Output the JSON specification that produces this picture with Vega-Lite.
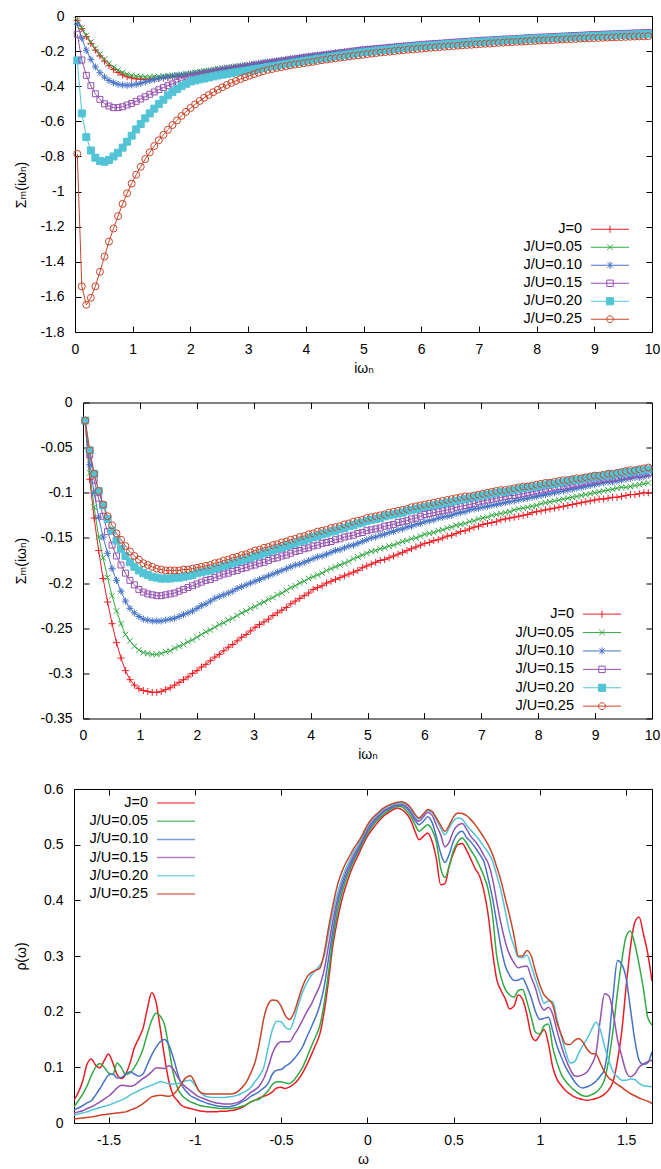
{
"$schema":"https://vega.github.io/schema/vega-lite/v6.json",
"background":"white",
"padding":{"left":12,"top":8,"right":0,"bottom":0},
"autosize":{"type":"pad"},
"config":{
 "font":"Liberation Sans",
 "view":{"stroke":"#000","strokeWidth":1},
 "axis":{"grid":false,"domain":false,"tickSize":-6,"tickColor":"#000","tickWidth":1,"labelFontSize":14,"labelFont":"Liberation Sans","labelColor":"#000","titleFontSize":14,"titleFont":"Liberation Sans, DejaVu Sans","titleColor":"#000","titleFontWeight":"normal","labelFlush":false,"labelOverlap":false},
 "legend":{"labelFontSize":14.5,"labelFont":"Liberation Sans","labelColor":"#000","labelAlign":"right","labelOffset":-35.25,"symbolOffset":82,"symbolSize":64,"padding":0,"labelLimit":0}
},
"datasets":{
"m":[
{"x":0.039,"a":-0.025,"b":-0.024,"c":-0.047,"d":-0.104,"e":-0.253,"f":-0.785,"A":-0.022,"B":-0.021,"C":-0.02,"D":-0.02,"E":-0.02,"F":-0.02},
{"x":0.118,"a":-0.072,"b":-0.068,"c":-0.127,"d":-0.251,"e":-0.555,"f":-1.54,"A":-0.085,"B":-0.078,"C":-0.069,"D":-0.058,"E":-0.053,"F":-0.053},
{"x":0.196,"a":-0.117,"b":-0.111,"c":-0.195,"d":-0.338,"e":-0.69,"f":-1.645,"A":-0.128,"B":-0.116,"C":-0.1,"D":-0.086,"E":-0.079,"F":-0.079},
{"x":0.275,"a":-0.156,"b":-0.149,"c":-0.247,"d":-0.397,"e":-0.766,"f":-1.605,"A":-0.164,"B":-0.149,"C":-0.127,"D":-0.106,"E":-0.098,"F":-0.098},
{"x":0.353,"a":-0.194,"b":-0.185,"c":-0.29,"d":-0.443,"e":-0.807,"f":-1.54,"A":-0.195,"B":-0.172,"C":-0.149,"D":-0.126,"E":-0.114,"F":-0.113},
{"x":0.432,"a":-0.227,"b":-0.217,"c":-0.323,"d":-0.475,"e":-0.826,"f":-1.457,"A":-0.221,"B":-0.194,"C":-0.167,"D":-0.143,"E":-0.129,"F":-0.126},
{"x":0.511,"a":-0.257,"b":-0.246,"c":-0.348,"d":-0.5,"e":-0.83,"f":-1.37,"A":-0.245,"B":-0.214,"C":-0.184,"D":-0.158,"E":-0.142,"F":-0.136},
{"x":0.589,"a":-0.283,"b":-0.271,"c":-0.367,"d":-0.513,"e":-0.82,"f":-1.285,"A":-0.266,"B":-0.231,"C":-0.197,"D":-0.17,"E":-0.153,"F":-0.145},
{"x":0.668,"a":-0.304,"b":-0.291,"c":-0.38,"d":-0.522,"e":-0.8,"f":-1.21,"A":-0.283,"B":-0.245,"C":-0.209,"D":-0.18,"E":-0.162,"F":-0.152},
{"x":0.746,"a":-0.322,"b":-0.308,"c":-0.389,"d":-0.522,"e":-0.779,"f":-1.14,"A":-0.297,"B":-0.257,"C":-0.22,"D":-0.189,"E":-0.17,"F":-0.159},
{"x":0.825,"a":-0.336,"b":-0.322,"c":-0.393,"d":-0.517,"e":-0.75,"f":-1.07,"A":-0.307,"B":-0.264,"C":-0.228,"D":-0.197,"E":-0.177,"F":-0.165},
{"x":0.903,"a":-0.346,"b":-0.332,"c":-0.395,"d":-0.507,"e":-0.716,"f":-1.01,"A":-0.313,"B":-0.27,"C":-0.233,"D":-0.202,"E":-0.182,"F":-0.17},
{"x":0.982,"a":-0.353,"b":-0.339,"c":-0.393,"d":-0.498,"e":-0.682,"f":-0.955,"A":-0.317,"B":-0.274,"C":-0.237,"D":-0.207,"E":-0.186,"F":-0.174},
{"x":1.06,"a":-0.358,"b":-0.343,"c":-0.389,"d":-0.486,"e":-0.646,"f":-0.904,"A":-0.319,"B":-0.277,"C":-0.24,"D":-0.21,"E":-0.189,"F":-0.178},
{"x":1.139,"a":-0.36,"b":-0.346,"c":-0.384,"d":-0.473,"e":-0.615,"f":-0.859,"A":-0.32,"B":-0.278,"C":-0.241,"D":-0.212,"E":-0.191,"F":-0.18},
{"x":1.217,"a":-0.361,"b":-0.347,"c":-0.376,"d":-0.46,"e":-0.583,"f":-0.815,"A":-0.321,"B":-0.279,"C":-0.242,"D":-0.213,"E":-0.193,"F":-0.182},
{"x":1.296,"a":-0.36,"b":-0.347,"c":-0.369,"d":-0.446,"e":-0.555,"f":-0.776,"A":-0.321,"B":-0.279,"C":-0.242,"D":-0.214,"E":-0.194,"F":-0.184},
{"x":1.374,"a":-0.358,"b":-0.346,"c":-0.362,"d":-0.433,"e":-0.528,"f":-0.741,"A":-0.32,"B":-0.278,"C":-0.242,"D":-0.214,"E":-0.195,"F":-0.185},
{"x":1.453,"a":-0.356,"b":-0.345,"c":-0.356,"d":-0.42,"e":-0.501,"f":-0.708,"A":-0.318,"B":-0.276,"C":-0.241,"D":-0.213,"E":-0.195,"F":-0.186},
{"x":1.532,"a":-0.353,"b":-0.343,"c":-0.351,"d":-0.408,"e":-0.477,"f":-0.677,"A":-0.316,"B":-0.275,"C":-0.24,"D":-0.212,"E":-0.195,"F":-0.186},
{"x":1.61,"a":-0.35,"b":-0.341,"c":-0.347,"d":-0.397,"e":-0.452,"f":-0.648,"A":-0.313,"B":-0.272,"C":-0.239,"D":-0.211,"E":-0.194,"F":-0.186},
{"x":1.689,"a":-0.347,"b":-0.338,"c":-0.343,"d":-0.387,"e":-0.433,"f":-0.621,"A":-0.31,"B":-0.27,"C":-0.237,"D":-0.209,"E":-0.194,"F":-0.186},
{"x":1.767,"a":-0.344,"b":-0.335,"c":-0.34,"d":-0.377,"e":-0.416,"f":-0.595,"A":-0.307,"B":-0.268,"C":-0.235,"D":-0.207,"E":-0.193,"F":-0.185},
{"x":1.846,"a":-0.34,"b":-0.332,"c":-0.337,"d":-0.368,"e":-0.4,"f":-0.569,"A":-0.304,"B":-0.265,"C":-0.233,"D":-0.205,"E":-0.192,"F":-0.185},
{"x":1.924,"a":-0.336,"b":-0.329,"c":-0.335,"d":-0.36,"e":-0.386,"f":-0.546,"A":-0.3,"B":-0.263,"C":-0.231,"D":-0.203,"E":-0.191,"F":-0.184},
{"x":2.003,"a":-0.332,"b":-0.325,"c":-0.332,"d":-0.352,"e":-0.373,"f":-0.524,"A":-0.297,"B":-0.26,"C":-0.228,"D":-0.201,"E":-0.189,"F":-0.183},
{"x":2.081,"a":-0.328,"b":-0.321,"c":-0.328,"d":-0.347,"e":-0.367,"f":-0.503,"A":-0.293,"B":-0.257,"C":-0.225,"D":-0.199,"E":-0.188,"F":-0.182},
{"x":2.16,"a":-0.323,"b":-0.317,"c":-0.324,"d":-0.341,"e":-0.361,"f":-0.484,"A":-0.29,"B":-0.254,"C":-0.223,"D":-0.197,"E":-0.187,"F":-0.181},
{"x":2.238,"a":-0.319,"b":-0.313,"c":-0.319,"d":-0.336,"e":-0.356,"f":-0.466,"A":-0.286,"B":-0.252,"C":-0.22,"D":-0.196,"E":-0.186,"F":-0.18},
{"x":2.317,"a":-0.315,"b":-0.309,"c":-0.315,"d":-0.331,"e":-0.35,"f":-0.45,"A":-0.282,"B":-0.249,"C":-0.217,"D":-0.194,"E":-0.184,"F":-0.178},
{"x":2.395,"a":-0.311,"b":-0.305,"c":-0.311,"d":-0.325,"e":-0.344,"f":-0.434,"A":-0.279,"B":-0.246,"C":-0.215,"D":-0.192,"E":-0.183,"F":-0.177},
{"x":2.474,"a":-0.306,"b":-0.301,"c":-0.306,"d":-0.32,"e":-0.339,"f":-0.42,"A":-0.275,"B":-0.244,"C":-0.213,"D":-0.19,"E":-0.181,"F":-0.175},
{"x":2.553,"a":-0.302,"b":-0.297,"c":-0.302,"d":-0.315,"e":-0.334,"f":-0.406,"A":-0.271,"B":-0.241,"C":-0.211,"D":-0.189,"E":-0.18,"F":-0.174},
{"x":2.631,"a":-0.299,"b":-0.294,"c":-0.298,"d":-0.31,"e":-0.33,"f":-0.393,"A":-0.268,"B":-0.239,"C":-0.209,"D":-0.187,"E":-0.178,"F":-0.172},
{"x":2.71,"a":-0.295,"b":-0.29,"c":-0.294,"d":-0.306,"e":-0.326,"f":-0.381,"A":-0.264,"B":-0.236,"C":-0.206,"D":-0.186,"E":-0.177,"F":-0.171},
{"x":2.788,"a":-0.292,"b":-0.287,"c":-0.29,"d":-0.301,"e":-0.321,"f":-0.37,"A":-0.26,"B":-0.233,"C":-0.204,"D":-0.184,"E":-0.175,"F":-0.169},
{"x":2.867,"a":-0.288,"b":-0.283,"c":-0.286,"d":-0.297,"e":-0.317,"f":-0.359,"A":-0.257,"B":-0.231,"C":-0.202,"D":-0.183,"E":-0.174,"F":-0.168},
{"x":2.945,"a":-0.285,"b":-0.28,"c":-0.282,"d":-0.292,"e":-0.313,"f":-0.349,"A":-0.253,"B":-0.228,"C":-0.2,"D":-0.181,"E":-0.172,"F":-0.166},
{"x":3.024,"a":-0.281,"b":-0.276,"c":-0.278,"d":-0.288,"e":-0.309,"f":-0.34,"A":-0.249,"B":-0.226,"C":-0.198,"D":-0.18,"E":-0.17,"F":-0.164},
{"x":3.102,"a":-0.277,"b":-0.272,"c":-0.274,"d":-0.283,"e":-0.304,"f":-0.331,"A":-0.246,"B":-0.223,"C":-0.196,"D":-0.178,"E":-0.169,"F":-0.163},
{"x":3.181,"a":-0.273,"b":-0.269,"c":-0.27,"d":-0.279,"e":-0.3,"f":-0.323,"A":-0.243,"B":-0.221,"C":-0.194,"D":-0.177,"E":-0.167,"F":-0.161},
{"x":3.259,"a":-0.27,"b":-0.265,"c":-0.266,"d":-0.275,"e":-0.296,"f":-0.315,"A":-0.24,"B":-0.218,"C":-0.192,"D":-0.175,"E":-0.166,"F":-0.16},
{"x":3.338,"a":-0.266,"b":-0.262,"c":-0.262,"d":-0.27,"e":-0.291,"f":-0.307,"A":-0.236,"B":-0.216,"C":-0.19,"D":-0.173,"E":-0.164,"F":-0.158},
{"x":3.416,"a":-0.262,"b":-0.258,"c":-0.258,"d":-0.266,"e":-0.287,"f":-0.302,"A":-0.233,"B":-0.213,"C":-0.188,"D":-0.172,"E":-0.162,"F":-0.157},
{"x":3.495,"a":-0.259,"b":-0.255,"c":-0.254,"d":-0.262,"e":-0.283,"f":-0.296,"A":-0.23,"B":-0.211,"C":-0.186,"D":-0.17,"E":-0.161,"F":-0.155},
{"x":3.574,"a":-0.255,"b":-0.251,"c":-0.251,"d":-0.258,"e":-0.278,"f":-0.291,"A":-0.227,"B":-0.208,"C":-0.184,"D":-0.169,"E":-0.159,"F":-0.154},
{"x":3.652,"a":-0.251,"b":-0.248,"c":-0.247,"d":-0.254,"e":-0.274,"f":-0.286,"A":-0.223,"B":-0.205,"C":-0.182,"D":-0.167,"E":-0.158,"F":-0.152},
{"x":3.731,"a":-0.248,"b":-0.244,"c":-0.243,"d":-0.25,"e":-0.27,"f":-0.281,"A":-0.22,"B":-0.203,"C":-0.18,"D":-0.165,"E":-0.156,"F":-0.151},
{"x":3.809,"a":-0.244,"b":-0.241,"c":-0.239,"d":-0.246,"e":-0.265,"f":-0.277,"A":-0.217,"B":-0.2,"C":-0.179,"D":-0.164,"E":-0.154,"F":-0.149},
{"x":3.888,"a":-0.24,"b":-0.237,"c":-0.236,"d":-0.242,"e":-0.261,"f":-0.273,"A":-0.214,"B":-0.198,"C":-0.177,"D":-0.162,"E":-0.153,"F":-0.148},
{"x":3.966,"a":-0.237,"b":-0.234,"c":-0.232,"d":-0.238,"e":-0.257,"f":-0.269,"A":-0.211,"B":-0.195,"C":-0.175,"D":-0.161,"E":-0.151,"F":-0.146},
{"x":4.045,"a":-0.233,"b":-0.23,"c":-0.228,"d":-0.234,"e":-0.253,"f":-0.265,"A":-0.207,"B":-0.193,"C":-0.173,"D":-0.159,"E":-0.149,"F":-0.145},
{"x":4.123,"a":-0.231,"b":-0.228,"c":-0.225,"d":-0.231,"e":-0.249,"f":-0.261,"A":-0.205,"B":-0.191,"C":-0.171,"D":-0.158,"E":-0.148,"F":-0.143},
{"x":4.202,"a":-0.228,"b":-0.225,"c":-0.222,"d":-0.227,"e":-0.245,"f":-0.256,"A":-0.203,"B":-0.189,"C":-0.17,"D":-0.156,"E":-0.146,"F":-0.142},
{"x":4.28,"a":-0.225,"b":-0.222,"c":-0.219,"d":-0.224,"e":-0.242,"f":-0.252,"A":-0.2,"B":-0.186,"C":-0.168,"D":-0.155,"E":-0.145,"F":-0.141},
{"x":4.359,"a":-0.222,"b":-0.219,"c":-0.216,"d":-0.221,"e":-0.238,"f":-0.248,"A":-0.198,"B":-0.184,"C":-0.166,"D":-0.154,"E":-0.143,"F":-0.139},
{"x":4.437,"a":-0.22,"b":-0.217,"c":-0.212,"d":-0.217,"e":-0.234,"f":-0.244,"A":-0.196,"B":-0.182,"C":-0.164,"D":-0.152,"E":-0.142,"F":-0.138},
{"x":4.516,"a":-0.217,"b":-0.214,"c":-0.209,"d":-0.214,"e":-0.23,"f":-0.241,"A":-0.194,"B":-0.18,"C":-0.163,"D":-0.151,"E":-0.14,"F":-0.137},
{"x":4.595,"a":-0.214,"b":-0.211,"c":-0.206,"d":-0.21,"e":-0.226,"f":-0.237,"A":-0.192,"B":-0.178,"C":-0.161,"D":-0.149,"E":-0.139,"F":-0.135},
{"x":4.673,"a":-0.212,"b":-0.209,"c":-0.203,"d":-0.207,"e":-0.223,"f":-0.234,"A":-0.19,"B":-0.176,"C":-0.159,"D":-0.148,"E":-0.137,"F":-0.134},
{"x":4.752,"a":-0.209,"b":-0.206,"c":-0.2,"d":-0.204,"e":-0.219,"f":-0.23,"A":-0.188,"B":-0.173,"C":-0.158,"D":-0.147,"E":-0.136,"F":-0.132},
{"x":4.83,"a":-0.206,"b":-0.203,"c":-0.197,"d":-0.2,"e":-0.215,"f":-0.227,"A":-0.186,"B":-0.171,"C":-0.156,"D":-0.145,"E":-0.134,"F":-0.131},
{"x":4.909,"a":-0.203,"b":-0.2,"c":-0.194,"d":-0.197,"e":-0.211,"f":-0.224,"A":-0.183,"B":-0.169,"C":-0.154,"D":-0.144,"E":-0.133,"F":-0.13},
{"x":4.987,"a":-0.2,"b":-0.197,"c":-0.19,"d":-0.193,"e":-0.207,"f":-0.221,"A":-0.181,"B":-0.167,"C":-0.152,"D":-0.142,"E":-0.131,"F":-0.128},
{"x":5.066,"a":-0.198,"b":-0.195,"c":-0.188,"d":-0.191,"e":-0.205,"f":-0.217,"A":-0.179,"B":-0.165,"C":-0.15,"D":-0.141,"E":-0.13,"F":-0.127},
{"x":5.144,"a":-0.196,"b":-0.193,"c":-0.186,"d":-0.189,"e":-0.202,"f":-0.214,"A":-0.177,"B":-0.164,"C":-0.149,"D":-0.14,"E":-0.129,"F":-0.126},
{"x":5.223,"a":-0.194,"b":-0.191,"c":-0.184,"d":-0.186,"e":-0.199,"f":-0.211,"A":-0.175,"B":-0.162,"C":-0.147,"D":-0.139,"E":-0.128,"F":-0.125},
{"x":5.301,"a":-0.192,"b":-0.189,"c":-0.181,"d":-0.184,"e":-0.196,"f":-0.208,"A":-0.174,"B":-0.161,"C":-0.146,"D":-0.137,"E":-0.126,"F":-0.124},
{"x":5.38,"a":-0.189,"b":-0.186,"c":-0.179,"d":-0.182,"e":-0.194,"f":-0.205,"A":-0.172,"B":-0.159,"C":-0.144,"D":-0.136,"E":-0.125,"F":-0.122},
{"x":5.458,"a":-0.187,"b":-0.184,"c":-0.177,"d":-0.179,"e":-0.191,"f":-0.203,"A":-0.17,"B":-0.158,"C":-0.143,"D":-0.135,"E":-0.124,"F":-0.121},
{"x":5.537,"a":-0.185,"b":-0.182,"c":-0.174,"d":-0.177,"e":-0.188,"f":-0.2,"A":-0.168,"B":-0.156,"C":-0.141,"D":-0.133,"E":-0.123,"F":-0.12},
{"x":5.616,"a":-0.183,"b":-0.18,"c":-0.172,"d":-0.174,"e":-0.185,"f":-0.197,"A":-0.166,"B":-0.154,"C":-0.14,"D":-0.132,"E":-0.122,"F":-0.119},
{"x":5.694,"a":-0.181,"b":-0.178,"c":-0.17,"d":-0.172,"e":-0.183,"f":-0.195,"A":-0.164,"B":-0.153,"C":-0.138,"D":-0.131,"E":-0.12,"F":-0.118},
{"x":5.773,"a":-0.178,"b":-0.175,"c":-0.168,"d":-0.17,"e":-0.18,"f":-0.192,"A":-0.162,"B":-0.151,"C":-0.137,"D":-0.129,"E":-0.119,"F":-0.116},
{"x":5.851,"a":-0.176,"b":-0.173,"c":-0.165,"d":-0.168,"e":-0.177,"f":-0.19,"A":-0.16,"B":-0.15,"C":-0.135,"D":-0.128,"E":-0.118,"F":-0.115},
{"x":5.93,"a":-0.174,"b":-0.171,"c":-0.163,"d":-0.165,"e":-0.174,"f":-0.188,"A":-0.158,"B":-0.148,"C":-0.134,"D":-0.126,"E":-0.117,"F":-0.114},
{"x":6.008,"a":-0.172,"b":-0.169,"c":-0.161,"d":-0.163,"e":-0.172,"f":-0.186,"A":-0.156,"B":-0.146,"C":-0.132,"D":-0.124,"E":-0.116,"F":-0.113},
{"x":6.087,"a":-0.17,"b":-0.167,"c":-0.159,"d":-0.161,"e":-0.17,"f":-0.183,"A":-0.155,"B":-0.145,"C":-0.131,"D":-0.123,"E":-0.115,"F":-0.112},
{"x":6.165,"a":-0.168,"b":-0.165,"c":-0.157,"d":-0.159,"e":-0.168,"f":-0.181,"A":-0.153,"B":-0.144,"C":-0.13,"D":-0.122,"E":-0.114,"F":-0.111},
{"x":6.244,"a":-0.167,"b":-0.164,"c":-0.156,"d":-0.157,"e":-0.166,"f":-0.179,"A":-0.152,"B":-0.142,"C":-0.128,"D":-0.121,"E":-0.113,"F":-0.11},
{"x":6.322,"a":-0.165,"b":-0.162,"c":-0.154,"d":-0.156,"e":-0.164,"f":-0.177,"A":-0.15,"B":-0.141,"C":-0.127,"D":-0.12,"E":-0.112,"F":-0.109},
{"x":6.401,"a":-0.163,"b":-0.161,"c":-0.152,"d":-0.154,"e":-0.162,"f":-0.175,"A":-0.148,"B":-0.139,"C":-0.126,"D":-0.119,"E":-0.111,"F":-0.108},
{"x":6.479,"a":-0.161,"b":-0.159,"c":-0.15,"d":-0.152,"e":-0.16,"f":-0.173,"A":-0.147,"B":-0.138,"C":-0.125,"D":-0.118,"E":-0.11,"F":-0.107},
{"x":6.558,"a":-0.16,"b":-0.157,"c":-0.149,"d":-0.15,"e":-0.159,"f":-0.171,"A":-0.145,"B":-0.136,"C":-0.123,"D":-0.116,"E":-0.109,"F":-0.106},
{"x":6.637,"a":-0.158,"b":-0.156,"c":-0.147,"d":-0.148,"e":-0.157,"f":-0.169,"A":-0.143,"B":-0.135,"C":-0.122,"D":-0.115,"E":-0.108,"F":-0.105},
{"x":6.715,"a":-0.156,"b":-0.154,"c":-0.145,"d":-0.146,"e":-0.155,"f":-0.167,"A":-0.142,"B":-0.134,"C":-0.121,"D":-0.114,"E":-0.107,"F":-0.104},
{"x":6.794,"a":-0.155,"b":-0.152,"c":-0.144,"d":-0.145,"e":-0.153,"f":-0.165,"A":-0.14,"B":-0.132,"C":-0.119,"D":-0.113,"E":-0.106,"F":-0.104},
{"x":6.872,"a":-0.153,"b":-0.151,"c":-0.142,"d":-0.143,"e":-0.151,"f":-0.164,"A":-0.138,"B":-0.131,"C":-0.118,"D":-0.112,"E":-0.105,"F":-0.103},
{"x":6.951,"a":-0.151,"b":-0.149,"c":-0.14,"d":-0.141,"e":-0.149,"f":-0.162,"A":-0.137,"B":-0.129,"C":-0.117,"D":-0.11,"E":-0.104,"F":-0.102},
{"x":7.029,"a":-0.149,"b":-0.147,"c":-0.138,"d":-0.139,"e":-0.147,"f":-0.16,"A":-0.135,"B":-0.128,"C":-0.116,"D":-0.109,"E":-0.103,"F":-0.101},
{"x":7.108,"a":-0.148,"b":-0.146,"c":-0.137,"d":-0.138,"e":-0.146,"f":-0.158,"A":-0.134,"B":-0.127,"C":-0.115,"D":-0.108,"E":-0.102,"F":-0.1},
{"x":7.186,"a":-0.147,"b":-0.145,"c":-0.136,"d":-0.137,"e":-0.144,"f":-0.157,"A":-0.133,"B":-0.125,"C":-0.114,"D":-0.107,"E":-0.101,"F":-0.099},
{"x":7.265,"a":-0.145,"b":-0.143,"c":-0.134,"d":-0.135,"e":-0.143,"f":-0.155,"A":-0.132,"B":-0.124,"C":-0.113,"D":-0.106,"E":-0.1,"F":-0.098},
{"x":7.343,"a":-0.144,"b":-0.142,"c":-0.133,"d":-0.134,"e":-0.141,"f":-0.153,"A":-0.13,"B":-0.123,"C":-0.112,"D":-0.105,"E":-0.099,"F":-0.097},
{"x":7.422,"a":-0.142,"b":-0.14,"c":-0.131,"d":-0.132,"e":-0.14,"f":-0.152,"A":-0.129,"B":-0.122,"C":-0.111,"D":-0.104,"E":-0.099,"F":-0.097},
{"x":7.5,"a":-0.141,"b":-0.139,"c":-0.13,"d":-0.131,"e":-0.138,"f":-0.15,"A":-0.128,"B":-0.121,"C":-0.11,"D":-0.103,"E":-0.098,"F":-0.096},
{"x":7.579,"a":-0.14,"b":-0.138,"c":-0.129,"d":-0.13,"e":-0.137,"f":-0.149,"A":-0.127,"B":-0.119,"C":-0.109,"D":-0.103,"E":-0.097,"F":-0.095},
{"x":7.658,"a":-0.138,"b":-0.136,"c":-0.127,"d":-0.128,"e":-0.135,"f":-0.147,"A":-0.126,"B":-0.118,"C":-0.108,"D":-0.102,"E":-0.096,"F":-0.094},
{"x":7.736,"a":-0.137,"b":-0.135,"c":-0.126,"d":-0.127,"e":-0.134,"f":-0.146,"A":-0.125,"B":-0.117,"C":-0.107,"D":-0.101,"E":-0.095,"F":-0.093},
{"x":7.815,"a":-0.135,"b":-0.133,"c":-0.124,"d":-0.125,"e":-0.132,"f":-0.145,"A":-0.124,"B":-0.116,"C":-0.106,"D":-0.1,"E":-0.094,"F":-0.093},
{"x":7.893,"a":-0.134,"b":-0.132,"c":-0.123,"d":-0.124,"e":-0.131,"f":-0.143,"A":-0.122,"B":-0.115,"C":-0.105,"D":-0.099,"E":-0.094,"F":-0.092},
{"x":7.972,"a":-0.133,"b":-0.131,"c":-0.122,"d":-0.123,"e":-0.129,"f":-0.142,"A":-0.121,"B":-0.114,"C":-0.104,"D":-0.098,"E":-0.093,"F":-0.091},
{"x":8.05,"a":-0.131,"b":-0.129,"c":-0.12,"d":-0.121,"e":-0.128,"f":-0.14,"A":-0.12,"B":-0.112,"C":-0.103,"D":-0.097,"E":-0.092,"F":-0.09},
{"x":8.129,"a":-0.13,"b":-0.128,"c":-0.119,"d":-0.12,"e":-0.127,"f":-0.139,"A":-0.119,"B":-0.111,"C":-0.102,"D":-0.096,"E":-0.091,"F":-0.089},
{"x":8.207,"a":-0.129,"b":-0.127,"c":-0.118,"d":-0.119,"e":-0.126,"f":-0.138,"A":-0.118,"B":-0.11,"C":-0.101,"D":-0.095,"E":-0.09,"F":-0.089},
{"x":8.286,"a":-0.128,"b":-0.125,"c":-0.117,"d":-0.117,"e":-0.125,"f":-0.137,"A":-0.117,"B":-0.109,"C":-0.1,"D":-0.094,"E":-0.09,"F":-0.088},
{"x":8.364,"a":-0.127,"b":-0.124,"c":-0.116,"d":-0.116,"e":-0.124,"f":-0.135,"A":-0.116,"B":-0.108,"C":-0.099,"D":-0.093,"E":-0.089,"F":-0.087},
{"x":8.443,"a":-0.125,"b":-0.123,"c":-0.114,"d":-0.115,"e":-0.122,"f":-0.134,"A":-0.115,"B":-0.107,"C":-0.098,"D":-0.093,"E":-0.088,"F":-0.086},
{"x":8.521,"a":-0.124,"b":-0.122,"c":-0.113,"d":-0.114,"e":-0.121,"f":-0.133,"A":-0.114,"B":-0.106,"C":-0.097,"D":-0.092,"E":-0.087,"F":-0.086},
{"x":8.6,"a":-0.123,"b":-0.12,"c":-0.112,"d":-0.112,"e":-0.12,"f":-0.132,"A":-0.113,"B":-0.105,"C":-0.096,"D":-0.091,"E":-0.086,"F":-0.085},
{"x":8.679,"a":-0.122,"b":-0.119,"c":-0.111,"d":-0.111,"e":-0.119,"f":-0.131,"A":-0.112,"B":-0.104,"C":-0.095,"D":-0.09,"E":-0.086,"F":-0.084},
{"x":8.757,"a":-0.121,"b":-0.118,"c":-0.11,"d":-0.11,"e":-0.118,"f":-0.129,"A":-0.111,"B":-0.103,"C":-0.094,"D":-0.089,"E":-0.085,"F":-0.084},
{"x":8.836,"a":-0.119,"b":-0.117,"c":-0.108,"d":-0.109,"e":-0.117,"f":-0.128,"A":-0.11,"B":-0.102,"C":-0.093,"D":-0.088,"E":-0.084,"F":-0.083},
{"x":8.914,"a":-0.118,"b":-0.115,"c":-0.107,"d":-0.107,"e":-0.115,"f":-0.127,"A":-0.109,"B":-0.101,"C":-0.092,"D":-0.087,"E":-0.083,"F":-0.082},
{"x":8.993,"a":-0.117,"b":-0.114,"c":-0.106,"d":-0.106,"e":-0.114,"f":-0.126,"A":-0.108,"B":-0.1,"C":-0.091,"D":-0.086,"E":-0.082,"F":-0.081},
{"x":9.071,"a":-0.116,"b":-0.113,"c":-0.105,"d":-0.105,"e":-0.113,"f":-0.125,"A":-0.107,"B":-0.099,"C":-0.09,"D":-0.086,"E":-0.082,"F":-0.081},
{"x":9.15,"a":-0.115,"b":-0.112,"c":-0.104,"d":-0.104,"e":-0.112,"f":-0.124,"A":-0.107,"B":-0.098,"C":-0.089,"D":-0.085,"E":-0.081,"F":-0.08},
{"x":9.228,"a":-0.114,"b":-0.111,"c":-0.103,"d":-0.103,"e":-0.111,"f":-0.123,"A":-0.106,"B":-0.097,"C":-0.088,"D":-0.084,"E":-0.08,"F":-0.079},
{"x":9.307,"a":-0.113,"b":-0.11,"c":-0.102,"d":-0.102,"e":-0.11,"f":-0.122,"A":-0.105,"B":-0.096,"C":-0.088,"D":-0.084,"E":-0.08,"F":-0.079},
{"x":9.385,"a":-0.112,"b":-0.109,"c":-0.101,"d":-0.101,"e":-0.109,"f":-0.121,"A":-0.105,"B":-0.095,"C":-0.087,"D":-0.083,"E":-0.079,"F":-0.078},
{"x":9.464,"a":-0.111,"b":-0.108,"c":-0.1,"d":-0.1,"e":-0.108,"f":-0.12,"A":-0.104,"B":-0.094,"C":-0.086,"D":-0.082,"E":-0.078,"F":-0.077},
{"x":9.542,"a":-0.111,"b":-0.108,"c":-0.1,"d":-0.099,"e":-0.107,"f":-0.119,"A":-0.103,"B":-0.094,"C":-0.085,"D":-0.081,"E":-0.077,"F":-0.076},
{"x":9.621,"a":-0.11,"b":-0.107,"c":-0.099,"d":-0.098,"e":-0.107,"f":-0.118,"A":-0.102,"B":-0.093,"C":-0.084,"D":-0.081,"E":-0.077,"F":-0.075},
{"x":9.7,"a":-0.109,"b":-0.106,"c":-0.098,"d":-0.097,"e":-0.106,"f":-0.117,"A":-0.102,"B":-0.092,"C":-0.083,"D":-0.08,"E":-0.076,"F":-0.075},
{"x":9.778,"a":-0.108,"b":-0.105,"c":-0.097,"d":-0.096,"e":-0.105,"f":-0.116,"A":-0.101,"B":-0.091,"C":-0.083,"D":-0.079,"E":-0.075,"F":-0.074},
{"x":9.857,"a":-0.107,"b":-0.104,"c":-0.096,"d":-0.095,"e":-0.104,"f":-0.116,"A":-0.1,"B":-0.09,"C":-0.082,"D":-0.079,"E":-0.075,"F":-0.073},
{"x":9.935,"a":-0.106,"b":-0.103,"c":-0.095,"d":-0.094,"e":-0.103,"f":-0.115,"A":-0.1,"B":-0.089,"C":-0.081,"D":-0.078,"E":-0.074,"F":-0.072}
],
"s":[
{"x":-1.7,"a":0.041,"b":0.029,"c":0.023,"d":0.018,"e":0.014,"f":0.007},
{"x":-1.675,"a":0.055,"b":0.04,"c":0.027,"d":0.02,"e":0.016,"f":0.008},
{"x":-1.65,"a":0.075,"b":0.052,"c":0.031,"d":0.022,"e":0.018,"f":0.009},
{"x":-1.625,"a":0.105,"b":0.066,"c":0.036,"d":0.026,"e":0.02,"f":0.01},
{"x":-1.6,"a":0.115,"b":0.085,"c":0.04,"d":0.029,"e":0.023,"f":0.011},
{"x":-1.575,"a":0.104,"b":0.1,"c":0.05,"d":0.033,"e":0.025,"f":0.012},
{"x":-1.55,"a":0.099,"b":0.107,"c":0.062,"d":0.038,"e":0.028,"f":0.014},
{"x":-1.525,"a":0.112,"b":0.1,"c":0.075,"d":0.043,"e":0.03,"f":0.015},
{"x":-1.5,"a":0.124,"b":0.09,"c":0.086,"d":0.048,"e":0.032,"f":0.016},
{"x":-1.475,"a":0.108,"b":0.087,"c":0.088,"d":0.055,"e":0.035,"f":0.017},
{"x":-1.45,"a":0.087,"b":0.108,"c":0.081,"d":0.063,"e":0.038,"f":0.018},
{"x":-1.425,"a":0.08,"b":0.099,"c":0.082,"d":0.068,"e":0.041,"f":0.019},
{"x":-1.4,"a":0.088,"b":0.087,"c":0.088,"d":0.067,"e":0.045,"f":0.02},
{"x":-1.375,"a":0.108,"b":0.09,"c":0.092,"d":0.066,"e":0.05,"f":0.023},
{"x":-1.35,"a":0.135,"b":0.1,"c":0.088,"d":0.068,"e":0.054,"f":0.026},
{"x":-1.325,"a":0.152,"b":0.114,"c":0.084,"d":0.074,"e":0.058,"f":0.03},
{"x":-1.3,"a":0.17,"b":0.133,"c":0.088,"d":0.08,"e":0.062,"f":0.035},
{"x":-1.275,"a":0.205,"b":0.16,"c":0.105,"d":0.085,"e":0.065,"f":0.041},
{"x":-1.25,"a":0.234,"b":0.184,"c":0.122,"d":0.092,"e":0.068,"f":0.047},
{"x":-1.225,"a":0.218,"b":0.197,"c":0.136,"d":0.099,"e":0.071,"f":0.049},
{"x":-1.2,"a":0.17,"b":0.192,"c":0.146,"d":0.099,"e":0.074,"f":0.05},
{"x":-1.175,"a":0.118,"b":0.176,"c":0.15,"d":0.098,"e":0.073,"f":0.049},
{"x":-1.15,"a":0.075,"b":0.135,"c":0.14,"d":0.103,"e":0.07,"f":0.048},
{"x":-1.125,"a":0.05,"b":0.09,"c":0.118,"d":0.097,"e":0.07,"f":0.051},
{"x":-1.1,"a":0.04,"b":0.063,"c":0.09,"d":0.083,"e":0.071,"f":0.06},
{"x":-1.075,"a":0.031,"b":0.05,"c":0.068,"d":0.072,"e":0.073,"f":0.072},
{"x":-1.05,"a":0.028,"b":0.043,"c":0.057,"d":0.064,"e":0.076,"f":0.082},
{"x":-1.025,"a":0.026,"b":0.038,"c":0.049,"d":0.058,"e":0.077,"f":0.085},
{"x":-1,"a":0.024,"b":0.035,"c":0.045,"d":0.052,"e":0.068,"f":0.073},
{"x":-0.975,"a":0.022,"b":0.032,"c":0.041,"d":0.047,"e":0.058,"f":0.057},
{"x":-0.95,"a":0.021,"b":0.03,"c":0.038,"d":0.044,"e":0.05,"f":0.053},
{"x":-0.925,"a":0.02,"b":0.029,"c":0.035,"d":0.041,"e":0.047,"f":0.052},
{"x":-0.9,"a":0.02,"b":0.028,"c":0.033,"d":0.038,"e":0.046,"f":0.052},
{"x":-0.875,"a":0.02,"b":0.027,"c":0.031,"d":0.036,"e":0.046,"f":0.052},
{"x":-0.85,"a":0.021,"b":0.026,"c":0.03,"d":0.035,"e":0.046,"f":0.052},
{"x":-0.825,"a":0.021,"b":0.026,"c":0.029,"d":0.034,"e":0.046,"f":0.052},
{"x":-0.8,"a":0.022,"b":0.026,"c":0.029,"d":0.034,"e":0.047,"f":0.052},
{"x":-0.775,"a":0.023,"b":0.027,"c":0.031,"d":0.035,"e":0.048,"f":0.053},
{"x":-0.75,"a":0.025,"b":0.028,"c":0.034,"d":0.037,"e":0.05,"f":0.057},
{"x":-0.725,"a":0.028,"b":0.03,"c":0.038,"d":0.041,"e":0.054,"f":0.064},
{"x":-0.7,"a":0.033,"b":0.033,"c":0.042,"d":0.048,"e":0.058,"f":0.074},
{"x":-0.675,"a":0.038,"b":0.038,"c":0.048,"d":0.055,"e":0.064,"f":0.09},
{"x":-0.65,"a":0.041,"b":0.041,"c":0.052,"d":0.06,"e":0.075,"f":0.11},
{"x":-0.625,"a":0.045,"b":0.043,"c":0.057,"d":0.067,"e":0.085,"f":0.145},
{"x":-0.6,"a":0.048,"b":0.05,"c":0.063,"d":0.08,"e":0.1,"f":0.188},
{"x":-0.575,"a":0.051,"b":0.058,"c":0.071,"d":0.1,"e":0.135,"f":0.213},
{"x":-0.55,"a":0.056,"b":0.069,"c":0.088,"d":0.125,"e":0.168,"f":0.221},
{"x":-0.525,"a":0.063,"b":0.074,"c":0.095,"d":0.14,"e":0.183,"f":0.22},
{"x":-0.5,"a":0.064,"b":0.074,"c":0.096,"d":0.146,"e":0.182,"f":0.21},
{"x":-0.475,"a":0.062,"b":0.072,"c":0.102,"d":0.146,"e":0.172,"f":0.193},
{"x":-0.45,"a":0.065,"b":0.071,"c":0.107,"d":0.146,"e":0.168,"f":0.186},
{"x":-0.425,"a":0.07,"b":0.077,"c":0.115,"d":0.158,"e":0.185,"f":0.198},
{"x":-0.4,"a":0.078,"b":0.088,"c":0.125,"d":0.17,"e":0.212,"f":0.222},
{"x":-0.375,"a":0.09,"b":0.1,"c":0.137,"d":0.185,"e":0.235,"f":0.245},
{"x":-0.35,"a":0.105,"b":0.118,"c":0.155,"d":0.2,"e":0.252,"f":0.262},
{"x":-0.325,"a":0.122,"b":0.137,"c":0.172,"d":0.213,"e":0.265,"f":0.27},
{"x":-0.3,"a":0.14,"b":0.155,"c":0.19,"d":0.23,"e":0.275,"f":0.274},
{"x":-0.275,"a":0.16,"b":0.175,"c":0.212,"d":0.247,"e":0.283,"f":0.278},
{"x":-0.25,"a":0.2,"b":0.215,"c":0.245,"d":0.275,"e":0.3,"f":0.305},
{"x":-0.225,"a":0.255,"b":0.27,"c":0.295,"d":0.318,"e":0.34,"f":0.35},
{"x":-0.2,"a":0.318,"b":0.33,"c":0.345,"d":0.362,"e":0.378,"f":0.39},
{"x":-0.175,"a":0.362,"b":0.375,"c":0.39,"d":0.4,"e":0.41,"f":0.425},
{"x":-0.15,"a":0.398,"b":0.41,"c":0.42,"d":0.428,"e":0.436,"f":0.449},
{"x":-0.125,"a":0.425,"b":0.435,"c":0.443,"d":0.45,"e":0.457,"f":0.467},
{"x":-0.1,"a":0.448,"b":0.456,"c":0.461,"d":0.467,"e":0.473,"f":0.481},
{"x":-0.075,"a":0.467,"b":0.474,"c":0.478,"d":0.483,"e":0.489,"f":0.495},
{"x":-0.05,"a":0.483,"b":0.489,"c":0.493,"d":0.497,"e":0.501,"f":0.506},
{"x":-0.025,"a":0.5,"b":0.505,"c":0.508,"d":0.512,"e":0.516,"f":0.52},
{"x":0,"a":0.515,"b":0.52,"c":0.524,"d":0.528,"e":0.532,"f":0.535},
{"x":0.025,"a":0.526,"b":0.531,"c":0.535,"d":0.539,"e":0.543,"f":0.546},
{"x":0.05,"a":0.536,"b":0.541,"c":0.545,"d":0.548,"e":0.551,"f":0.554},
{"x":0.075,"a":0.545,"b":0.549,"c":0.553,"d":0.556,"e":0.559,"f":0.561},
{"x":0.1,"a":0.553,"b":0.556,"c":0.56,"d":0.562,"e":0.565,"f":0.567},
{"x":0.125,"a":0.558,"b":0.561,"c":0.564,"d":0.566,"e":0.569,"f":0.571},
{"x":0.15,"a":0.563,"b":0.566,"c":0.568,"d":0.57,"e":0.572,"f":0.574},
{"x":0.175,"a":0.566,"b":0.569,"c":0.571,"d":0.573,"e":0.574,"f":0.576},
{"x":0.2,"a":0.563,"b":0.568,"c":0.571,"d":0.573,"e":0.575,"f":0.577},
{"x":0.225,"a":0.556,"b":0.561,"c":0.566,"d":0.569,"e":0.572,"f":0.574},
{"x":0.25,"a":0.545,"b":0.552,"c":0.557,"d":0.561,"e":0.565,"f":0.567},
{"x":0.275,"a":0.525,"b":0.537,"c":0.544,"d":0.548,"e":0.552,"f":0.555},
{"x":0.3,"a":0.509,"b":0.524,"c":0.536,"d":0.542,"e":0.546,"f":0.548},
{"x":0.325,"a":0.515,"b":0.53,"c":0.542,"d":0.55,"e":0.554,"f":0.555},
{"x":0.35,"a":0.521,"b":0.536,"c":0.55,"d":0.558,"e":0.561,"f":0.563},
{"x":0.375,"a":0.506,"b":0.527,"c":0.54,"d":0.553,"e":0.558,"f":0.56},
{"x":0.4,"a":0.475,"b":0.505,"c":0.515,"d":0.535,"e":0.545,"f":0.548},
{"x":0.425,"a":0.428,"b":0.458,"c":0.485,"d":0.518,"e":0.53,"f":0.535},
{"x":0.45,"a":0.43,"b":0.441,"c":0.468,"d":0.496,"e":0.518,"f":0.524},
{"x":0.475,"a":0.462,"b":0.462,"c":0.483,"d":0.505,"e":0.53,"f":0.535},
{"x":0.5,"a":0.485,"b":0.49,"c":0.507,"d":0.525,"e":0.543,"f":0.55},
{"x":0.525,"a":0.5,"b":0.505,"c":0.52,"d":0.535,"e":0.548,"f":0.557},
{"x":0.55,"a":0.502,"b":0.512,"c":0.524,"d":0.538,"e":0.546,"f":0.556},
{"x":0.575,"a":0.49,"b":0.503,"c":0.513,"d":0.528,"e":0.535,"f":0.552},
{"x":0.6,"a":0.474,"b":0.49,"c":0.505,"d":0.515,"e":0.526,"f":0.545},
{"x":0.625,"a":0.457,"b":0.478,"c":0.495,"d":0.506,"e":0.518,"f":0.536},
{"x":0.65,"a":0.444,"b":0.462,"c":0.483,"d":0.495,"e":0.508,"f":0.525},
{"x":0.675,"a":0.418,"b":0.444,"c":0.47,"d":0.481,"e":0.497,"f":0.513},
{"x":0.7,"a":0.375,"b":0.42,"c":0.44,"d":0.467,"e":0.486,"f":0.5},
{"x":0.725,"a":0.31,"b":0.375,"c":0.405,"d":0.44,"e":0.471,"f":0.483},
{"x":0.75,"a":0.258,"b":0.3,"c":0.36,"d":0.398,"e":0.445,"f":0.46},
{"x":0.775,"a":0.238,"b":0.262,"c":0.315,"d":0.358,"e":0.417,"f":0.435},
{"x":0.8,"a":0.223,"b":0.24,"c":0.282,"d":0.325,"e":0.38,"f":0.403},
{"x":0.825,"a":0.205,"b":0.23,"c":0.265,"d":0.302,"e":0.342,"f":0.372},
{"x":0.85,"a":0.21,"b":0.226,"c":0.256,"d":0.288,"e":0.318,"f":0.337},
{"x":0.875,"a":0.23,"b":0.238,"c":0.257,"d":0.279,"e":0.298,"f":0.3},
{"x":0.9,"a":0.222,"b":0.24,"c":0.26,"d":0.281,"e":0.297,"f":0.3},
{"x":0.925,"a":0.195,"b":0.218,"c":0.245,"d":0.282,"e":0.302,"f":0.31},
{"x":0.95,"a":0.158,"b":0.19,"c":0.225,"d":0.262,"e":0.282,"f":0.3},
{"x":0.975,"a":0.148,"b":0.163,"c":0.2,"d":0.242,"e":0.258,"f":0.272},
{"x":1,"a":0.158,"b":0.16,"c":0.186,"d":0.215,"e":0.235,"f":0.248},
{"x":1.025,"a":0.168,"b":0.175,"c":0.188,"d":0.203,"e":0.215,"f":0.23},
{"x":1.05,"a":0.142,"b":0.178,"c":0.19,"d":0.208,"e":0.219,"f":0.222},
{"x":1.075,"a":0.1,"b":0.135,"c":0.165,"d":0.195,"e":0.218,"f":0.212},
{"x":1.1,"a":0.078,"b":0.108,"c":0.138,"d":0.165,"e":0.185,"f":0.18},
{"x":1.125,"a":0.067,"b":0.087,"c":0.118,"d":0.138,"e":0.155,"f":0.158},
{"x":1.15,"a":0.058,"b":0.075,"c":0.1,"d":0.115,"e":0.128,"f":0.142},
{"x":1.175,"a":0.052,"b":0.066,"c":0.087,"d":0.097,"e":0.108,"f":0.141},
{"x":1.2,"a":0.047,"b":0.059,"c":0.075,"d":0.085,"e":0.11,"f":0.148},
{"x":1.225,"a":0.044,"b":0.053,"c":0.066,"d":0.084,"e":0.125,"f":0.152},
{"x":1.25,"a":0.042,"b":0.049,"c":0.063,"d":0.087,"e":0.14,"f":0.145},
{"x":1.275,"a":0.041,"b":0.048,"c":0.065,"d":0.092,"e":0.152,"f":0.132},
{"x":1.3,"a":0.042,"b":0.051,"c":0.069,"d":0.105,"e":0.168,"f":0.125},
{"x":1.325,"a":0.044,"b":0.055,"c":0.075,"d":0.125,"e":0.181,"f":0.124},
{"x":1.35,"a":0.047,"b":0.063,"c":0.084,"d":0.185,"e":0.168,"f":0.108},
{"x":1.375,"a":0.052,"b":0.078,"c":0.097,"d":0.232,"e":0.138,"f":0.092},
{"x":1.4,"a":0.06,"b":0.115,"c":0.15,"d":0.228,"e":0.112,"f":0.081},
{"x":1.425,"a":0.075,"b":0.168,"c":0.23,"d":0.198,"e":0.092,"f":0.075},
{"x":1.45,"a":0.112,"b":0.235,"c":0.292,"d":0.15,"e":0.083,"f":0.069},
{"x":1.475,"a":0.165,"b":0.292,"c":0.285,"d":0.12,"e":0.077,"f":0.064},
{"x":1.5,"a":0.245,"b":0.335,"c":0.26,"d":0.092,"e":0.077,"f":0.058},
{"x":1.525,"a":0.315,"b":0.345,"c":0.205,"d":0.083,"e":0.079,"f":0.053},
{"x":1.55,"a":0.36,"b":0.322,"c":0.15,"d":0.088,"e":0.078,"f":0.049},
{"x":1.575,"a":0.37,"b":0.285,"c":0.113,"d":0.1,"e":0.071,"f":0.045},
{"x":1.6,"a":0.34,"b":0.242,"c":0.105,"d":0.106,"e":0.067,"f":0.042},
{"x":1.625,"a":0.305,"b":0.19,"c":0.108,"d":0.11,"e":0.066,"f":0.039},
{"x":1.65,"a":0.255,"b":0.176,"c":0.128,"d":0.113,"e":0.065,"f":0.035}
]
},
"vconcat":[
{"spacing":0,"hconcat":[
{"width":1,"height":1,"data":{"values":[]},"mark":{"type":"point","opacity":0},"view":{"stroke":null}},
{
 "width":577,"height":316,
 "data":{"name":"m"},
 "transform":[{"fold":["a","b","c","d","e","f"],"as":["k","y"]}],
 "encoding":{
  "x":{"field":"x","type":"quantitative","scale":{"domain":[0,10],"nice":false,"zero":false},"axis":{"values":[0,1,2,3,4,5,6,7,8,9,10],"labelExpr":"replace(format(datum.value,'~g'),'−','-')","title":"iωₙ","labelPadding":16,"titlePadding":5,"minExtent":24,"maxExtent":24}},
  "y":{"field":"y","type":"quantitative","scale":{"domain":[-1.8,0],"nice":false,"zero":false},"axis":{"values":[-1.8,-1.6,-1.4,-1.2,-1,-0.8,-0.6,-0.4,-0.2,0],"labelExpr":"replace(format(datum.value,'~g'),'−','-')","title":"Σₘ(iωₙ)","titleY":168.5,"labelPadding":17,"titlePadding":6,"minExtent":41,"maxExtent":41}},
  "color":{"field":"k","type":"nominal","scale":{"domain":["a","b","c","d","e","f"],"range":["#ec1c24","#33a943","#4673c6","#9452b0","#52c4d6","#c8452a"]},
   "legend":{"title":null,"orient":"none","legendX":508.75,"legendY":206,"rowPadding":3,"symbolStrokeWidth":1,
    "labelExpr":"['J=0','J/U=0.05','J/U=0.10','J/U=0.15','J/U=0.20','J/U=0.25'][indexof(['a','b','c','d','e','f'], lower(datum.value))]",
    "encode":{"symbols":{"update":{
     "shape":{"signal":"lower(datum.value)=='a'?'M-4.75,0L4.75,0M0,-0.9L0,0.9':lower(datum.value)=='b'?'M-4.75,0L4.75,0M-0.7,-0.7L0.7,0.7M-0.7,0.7L0.7,-0.7':lower(datum.value)=='c'?'M-4.75,0L4.75,0M0,-0.9L0,0.9M-0.65,-0.65L0.65,0.65M-0.65,0.65L0.65,-0.65':lower(datum.value)=='d'?'M-4.75,0L4.75,0M-0.8,-0.8L0.8,-0.8L0.8,0.8L-0.8,0.8Z':lower(datum.value)=='e'?'M-4.75,0L4.75,0M-0.9,-0.9L0.9,-0.9L0.9,0.9L-0.9,0.9Z':'M-4.75,0L4.75,0M0.85,0A0.85,0.85,0,1,1,-0.85,0A0.85,0.85,0,1,1,0.85,0'"},
     "fill":{"signal":"lower(datum.value)=='e'?'#52c4d6':'transparent'"}}}}}}
 },
 "layer":[
  {"mark":{"type":"line","strokeWidth":1}},
  {"mark":{"type":"point","filled":false,"opacity":1,"size":49,"strokeWidth":1},
   "encoding":{
    "x":{"field":"x","type":"quantitative","scale":{"domain":[0,10],"nice":false,"zero":false},"axis":null},
    "y":{"field":"y","type":"quantitative","scale":{"domain":[-1.8,0],"nice":false,"zero":false},"axis":null},
    "shape":{"field":"k","type":"nominal","scale":{"domain":["f","e","d","c","b","a"],"range":["circle","M-1,-1L1,-1L1,1L-1,1Z","M-0.85,-0.85L0.85,-0.85L0.85,0.85L-0.85,0.85Z","M-1,0L1,0M0,-1L0,1M-0.7,-0.7L0.7,0.7M-0.7,0.7L0.7,-0.7","M-0.8,-0.8L0.8,0.8M-0.8,0.8L0.8,-0.8","M-1,0L1,0M0,-1L0,1"]},"legend":null},
    "fill":{"field":"k","type":"nominal","scale":{"domain":["f","e","d","c","b","a"],"range":["transparent","#52c4d6","transparent","transparent","transparent","transparent"]},"legend":null}}},
  {"mark":{"type":"point"},"transform":[{"filter":"false"}],
   "encoding":{
    "x":{"field":"x","type":"quantitative","scale":{"domain":[0,10],"nice":false,"zero":false},"axis":{"orient":"top","values":[0,1,2,3,4,5,6,7,8,9,10],"labels":false,"title":null,"minExtent":0,"maxExtent":0}},
    "y":{"field":"y","type":"quantitative","scale":{"domain":[-1.8,0],"nice":false,"zero":false},"axis":{"orient":"right","values":[-1.8,-1.6,-1.4,-1.2,-1,-0.8,-0.6,-0.4,-0.2,0],"labels":false,"title":null,"minExtent":0,"maxExtent":0}}}}
 ],
 "resolve":{"axis":{"x":"independent","y":"independent"}}
}]},
{"spacing":0,"hconcat":[
{"width":1,"height":1,"data":{"values":[]},"mark":{"type":"point","opacity":0},"view":{"stroke":null}},
{
 "width":569,"height":316,
 "data":{"name":"m"},
 "transform":[{"fold":["A","B","C","D","E","F"],"as":["k","y"]}],
 "encoding":{
  "x":{"field":"x","type":"quantitative","scale":{"domain":[0,10],"nice":false,"zero":false},"axis":{"values":[0,1,2,3,4,5,6,7,8,9,10],"labelExpr":"replace(format(datum.value,'~g'),'−','-')","title":"iωₙ","labelPadding":16,"titlePadding":5,"minExtent":24,"maxExtent":24}},
  "y":{"field":"y","type":"quantitative","scale":{"domain":[-0.35,0],"nice":false,"zero":false},"axis":{"values":[-0.35,-0.3,-0.25,-0.2,-0.15,-0.1,-0.05,0],"labelExpr":"replace(format(datum.value,'~g'),'−','-')","title":"Σₘ(iωₙ)","labelPadding":17,"titlePadding":6,"minExtent":49,"maxExtent":49}},
  "color":{"field":"k","type":"nominal","scale":{"domain":["A","B","C","D","E","F"],"range":["#ec1c24","#33a943","#4673c6","#9452b0","#52c4d6","#c8452a"]},
   "legend":{"title":null,"orient":"none","legendX":500.75,"legendY":204.4,"rowPadding":3.4,"symbolStrokeWidth":1,
    "labelExpr":"['J=0','J/U=0.05','J/U=0.10','J/U=0.15','J/U=0.20','J/U=0.25'][indexof(['a','b','c','d','e','f'], lower(datum.value))]",
    "encode":{"symbols":{"update":{
     "shape":{"signal":"lower(datum.value)=='a'?'M-4.75,0L4.75,0M0,-0.9L0,0.9':lower(datum.value)=='b'?'M-4.75,0L4.75,0M-0.7,-0.7L0.7,0.7M-0.7,0.7L0.7,-0.7':lower(datum.value)=='c'?'M-4.75,0L4.75,0M0,-0.9L0,0.9M-0.65,-0.65L0.65,0.65M-0.65,0.65L0.65,-0.65':lower(datum.value)=='d'?'M-4.75,0L4.75,0M-0.8,-0.8L0.8,-0.8L0.8,0.8L-0.8,0.8Z':lower(datum.value)=='e'?'M-4.75,0L4.75,0M-0.9,-0.9L0.9,-0.9L0.9,0.9L-0.9,0.9Z':'M-4.75,0L4.75,0M0.85,0A0.85,0.85,0,1,1,-0.85,0A0.85,0.85,0,1,1,0.85,0'"},
     "fill":{"signal":"lower(datum.value)=='e'?'#52c4d6':'transparent'"}}}}}}
 },
 "layer":[
  {"mark":{"type":"line","strokeWidth":1}},
  {"mark":{"type":"point","filled":false,"opacity":1,"size":49,"strokeWidth":1},
   "encoding":{
    "x":{"field":"x","type":"quantitative","scale":{"domain":[0,10],"nice":false,"zero":false},"axis":null},
    "y":{"field":"y","type":"quantitative","scale":{"domain":[-0.35,0],"nice":false,"zero":false},"axis":null},
    "shape":{"field":"k","type":"nominal","scale":{"domain":["F","E","D","C","B","A"],"range":["circle","M-1,-1L1,-1L1,1L-1,1Z","M-0.85,-0.85L0.85,-0.85L0.85,0.85L-0.85,0.85Z","M-1,0L1,0M0,-1L0,1M-0.7,-0.7L0.7,0.7M-0.7,0.7L0.7,-0.7","M-0.8,-0.8L0.8,0.8M-0.8,0.8L0.8,-0.8","M-1,0L1,0M0,-1L0,1"]},"legend":null},
    "fill":{"field":"k","type":"nominal","scale":{"domain":["F","E","D","C","B","A"],"range":["transparent","#52c4d6","transparent","transparent","transparent","transparent"]},"legend":null}}},
  {"mark":{"type":"point"},"transform":[{"filter":"false"}],
   "encoding":{
    "x":{"field":"x","type":"quantitative","scale":{"domain":[0,10],"nice":false,"zero":false},"axis":{"orient":"top","values":[0,1,2,3,4,5,6,7,8,9,10],"labels":false,"title":null,"minExtent":0,"maxExtent":0}},
    "y":{"field":"y","type":"quantitative","scale":{"domain":[-0.35,0],"nice":false,"zero":false},"axis":{"orient":"right","values":[-0.35,-0.3,-0.25,-0.2,-0.15,-0.1,-0.05,0],"labels":false,"title":null,"minExtent":0,"maxExtent":0}}}}
 ],
 "resolve":{"axis":{"x":"independent","y":"independent"}}
}]},
{"spacing":0,"hconcat":[
{"width":1,"height":1,"data":{"values":[]},"mark":{"type":"point","opacity":0},"view":{"stroke":null}},
{
 "width":578,"height":334,
 "data":{"name":"s"},
 "transform":[{"fold":["a","b","c","d","e","f"],"as":["k","y"]}],
 "encoding":{
  "x":{"field":"x","type":"quantitative","scale":{"domain":[-1.7,1.65],"nice":false,"zero":false},"axis":{"values":[-1.5,-1,-0.5,0,0.5,1,1.5],"labelExpr":"replace(format(datum.value,'~g'),'−','-')","title":"ω","labelPadding":16,"titlePadding":5,"minExtent":24,"maxExtent":24}},
  "y":{"field":"y","type":"quantitative","scale":{"domain":[0,0.6],"nice":false,"zero":false},"axis":{"values":[0,0.1,0.2,0.3,0.4,0.5,0.6],"labelExpr":"format(datum.value,'~g')","title":"ρ(ω)","labelPadding":17,"titlePadding":6,"minExtent":40,"maxExtent":40}},
  "color":{"field":"k","type":"nominal","scale":{"domain":["a","b","c","d","e","f"],"range":["#ec1c24","#33a943","#4673c6","#9452b0","#52c4d6","#c8452a"]},
   "legend":{"title":null,"orient":"none","legendX":74.75,"legendY":6.75,"rowPadding":3.2,"symbolStrokeWidth":1.5,"symbolType":"M-4.75,0L4.75,0",
    "labelExpr":"['J=0','J/U=0.05','J/U=0.10','J/U=0.15','J/U=0.20','J/U=0.25'][indexof(['a','b','c','d','e','f'], lower(datum.value))]"}}
 },
 "layer":[
  {"mark":{"type":"line","strokeWidth":1.5,"interpolate":"monotone","clip":true}},
  {"mark":{"type":"point"},"transform":[{"filter":"false"}],
   "encoding":{
    "x":{"field":"x","type":"quantitative","scale":{"domain":[-1.7,1.65],"nice":false,"zero":false},"axis":{"orient":"top","values":[-1.5,-1,-0.5,0,0.5,1,1.5],"labels":false,"title":null,"minExtent":0,"maxExtent":0}},
    "y":{"field":"y","type":"quantitative","scale":{"domain":[0,0.6],"nice":false,"zero":false},"axis":{"orient":"right","values":[0,0.1,0.2,0.3,0.4,0.5,0.6],"labels":false,"title":null,"minExtent":0,"maxExtent":0}}}}
 ],
 "resolve":{"axis":{"x":"independent","y":"independent"}}
}]}
],
"spacing":18.5,
"resolve":{"scale":{"color":"independent","shape":"independent","fill":"independent"},"legend":{"color":"independent","shape":"independent","fill":"independent"}}
}
